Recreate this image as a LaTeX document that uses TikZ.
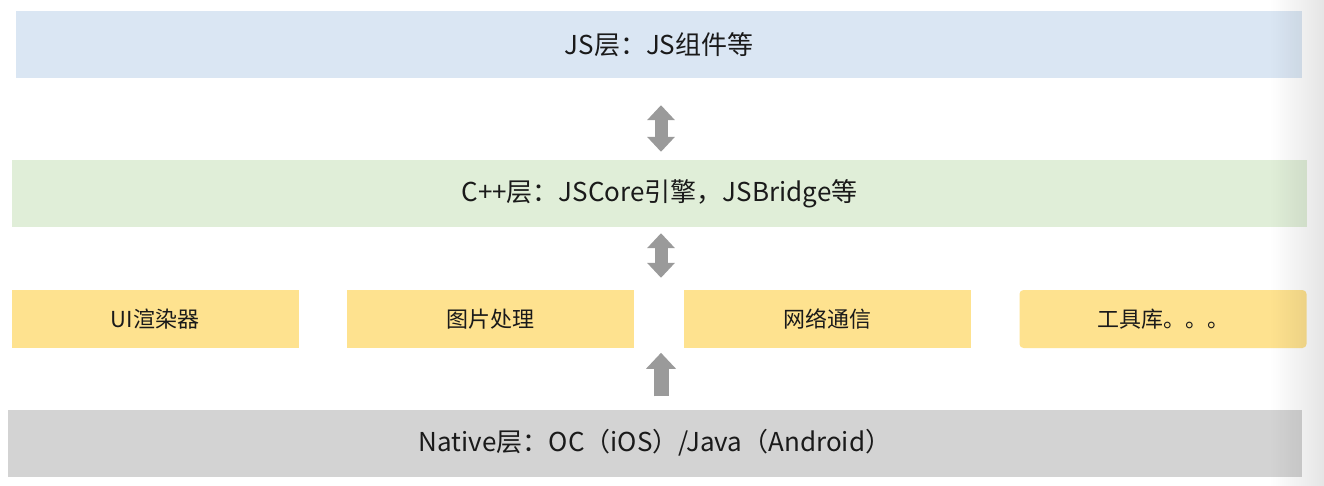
\documentclass[tikz,border=0pt]{standalone}
\usepackage{fontspec}
\setmainfont{Noto Sans CJK SC}
\usetikzlibrary{arrows.meta,fadings}

\definecolor{jsblue}{HTML}{DAE6F3}
\definecolor{cppgreen}{HTML}{E0EED8}
\definecolor{modyellow}{HTML}{FEE28F}
\definecolor{nativegray}{HTML}{D3D3D3}
\definecolor{arrowgray}{HTML}{9A9A9A}
\definecolor{txt}{HTML}{1A1A1A}

\tikzfading[name=edgefade, left color=transparent!100, right color=transparent!0]

\tikzset{
  layer/.style={inner sep=0pt, minimum height=67pt, text=txt, font=\fontsize{26}{30}\selectfont},
  module/.style={inner sep=0pt, minimum width=287pt, minimum height=58pt, fill=modyellow, text=txt, font=\fontsize{22}{26}\selectfont},
  dblarrow/.style={draw=arrowgray, line width=13pt, {Triangle[width=27pt,length=15pt]}-{Triangle[width=27pt,length=15pt]}},
  uparrow/.style={draw=arrowgray, line width=15pt, -{Triangle[width=29pt,length=16pt]}}
}

\begin{document}
\begin{tikzpicture}[x=1pt,y=-1pt]
\useasboundingbox (0,0) rectangle (1324,486);
\fill[white] (0,0) rectangle (1324,486);

% layers
\node[layer, fill=jsblue, minimum width=1286pt] (js) at (659,44.5) {JS层：JS组件等};
\node[layer, fill=cppgreen, minimum width=1295pt] (cpp) at (659.5,193.5) {C++层：JSCore引擎，JSBridge等};
\node[layer, fill=nativegray, minimum width=1294pt] (native) at (655,443) {Native层：OC（iOS）/Java（Android）};

% native modules
\node[module] (ui) at (155,319) {UI渲染器};
\node[module] (img) at (490.5,319) {图片处理};
\node[module] (net) at (827,319) {网络通信};
\node[module, rounded corners=4pt] (tools) at (1163,319) {工具库。。。};

% arrows
\coordinate (axis) at (661,0);
\draw[dblarrow, shorten <=27pt, shorten >=8pt] (js.south -| axis) -- (cpp.north -| axis);
\draw[dblarrow, shorten <=6pt, shorten >=12pt] (cpp.south -| axis) -- (img.north -| axis);
\draw[uparrow, shorten <=13pt, shorten >=63pt] (native.north -| axis) -- (img.north -| axis);

% screen edge shadow
\fill[black, opacity=0.1, path fading=edgefade] (1270,0) rectangle (1324,486);
\end{tikzpicture}
\end{document}
